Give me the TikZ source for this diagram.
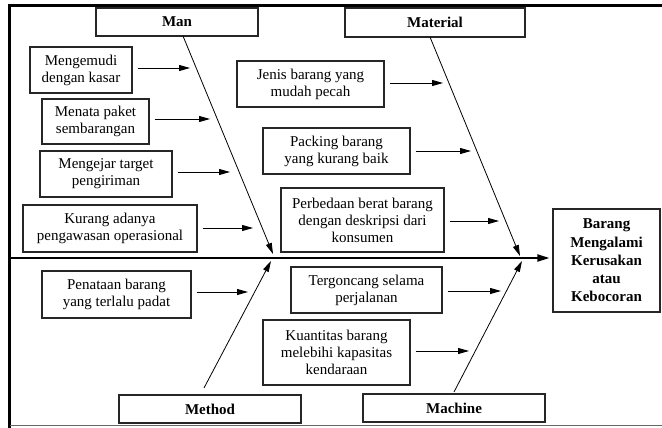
\documentclass[tikz,border=0pt]{standalone}
\usepackage{fontspec}
\setmainfont{Liberation Serif}
\usetikzlibrary{arrows.meta}
\begin{document}
\begin{tikzpicture}[x=1pt,y=-1pt,
  txt/.style={font=\fontsize{15}{17}\selectfont},
  cause/.style={draw=black!85,line width=1.1pt,align=center,txt,inner sep=0pt},
  cat/.style={draw=black!85,line width=1.1pt,font=\fontsize{15}{17}\selectfont\bfseries,inner sep=0pt},
  effect/.style={draw=black!85,line width=1.1pt,align=center,font=\fontsize{15}{18.3}\selectfont\bfseries,inner sep=0pt},
  carrow/.style={line width=0.8pt,-{Triangle[length=11pt,width=6pt]},shorten <=5pt},
  bone/.style={line width=0.8pt,-{Triangle[length=11pt,width=6pt]}},
  spine/.style={line width=2pt,-{Triangle[length=12pt,width=7pt]},shorten >=3pt}
]
\useasboundingbox (0,0) rectangle (662,428);
% frame
\draw[line width=3pt] (9.5,428) -- (9.5,6) -- (662,6);
\draw[line width=0.8pt,black!60] (9.5,425.5) -- (662,425.5);

% categories
\node[cat,minimum width=162pt,minimum height=28pt] (man) at (177,22) {Man};
\node[cat,minimum width=180pt,minimum height=29pt] (material) at (435,22.5) {Material};
\node[cat,minimum width=182pt,minimum height=28pt] (method) at (210,409) {Method};
\node[cat,minimum width=182pt,minimum height=28pt] (machine) at (454,408) {Machine};

% effect
\node[effect,minimum width=107pt,minimum height=103pt] (effect) at (606.5,260.5) {Barang\\Mengalami\\Kerusakan\\atau\\Kebocoran};

% spine
\coordinate (spineS) at (9.5,258);
\draw[spine] (spineS) -- (spineS -| effect.west);

% bones
\coordinate (manS) at (183,36);
\coordinate (manT) at (273,254);
\coordinate (matS) at (430,37);
\coordinate (matT) at (520,256);
\coordinate (metS) at (204,388);
\coordinate (metT) at (271,261);
\coordinate (macS) at (454,392);
\coordinate (macT) at (522,261);
\draw[bone] (manS) -- (manT);
\draw[bone] (matS) -- (matT);
\draw[bone] (metS) -- (metT);
\draw[bone] (macS) -- (macT);

% Man causes
\node[cause,minimum width=102pt,minimum height=46pt] (c1) at (81,70) {Mengemudi\\dengan kasar};
\node[cause,minimum width=107pt,minimum height=45pt] (c2) at (95.5,121.5) {Menata paket\\sembarangan};
\node[cause,minimum width=132pt,minimum height=46pt] (c3) at (106,174) {Mengejar target\\pengiriman};
\node[cause,minimum width=174pt,minimum height=47pt] (c4) at (110,228.5) {Kurang adanya\\pengawasan operasional};
\coordinate (a1) at (190,68);
\coordinate (a2) at (210,119);
\coordinate (a3) at (230,172);
\coordinate (a4) at (253,228);
\draw[carrow] (c1.east |- a1) -- (a1);
\draw[carrow] (c2.east |- a2) -- (a2);
\draw[carrow] (c3.east |- a3) -- (a3);
\draw[carrow] (c4.east |- a4) -- (a4);

% Material causes
\node[cause,minimum width=147pt,minimum height=46pt] (m1) at (310.5,84) {Jenis barang yang\\mudah pecah};
\node[cause,minimum width=147pt,minimum height=46pt] (m2) at (336.5,151) {Packing barang\\yang kurang baik};
\node[cause,minimum width=163pt,minimum height=64pt] (m3) at (362.5,220) {Perbedaan berat barang\\dengan deskripsi dari\\konsumen};
\coordinate (b1) at (443,83);
\coordinate (b2) at (471,151);
\coordinate (b3) at (499,221);
\draw[carrow] (m1.east |- b1) -- (b1);
\draw[carrow] (m2.east |- b2) -- (b2);
\draw[carrow] (m3.east |- b3) -- (b3);

% Method cause
\node[cause,minimum width=149pt,minimum height=47pt] (t1) at (116.5,294.5) {Penataan barang\\yang terlalu padat};
\coordinate (d1) at (248,292);
\draw[carrow] (t1.east |- d1) -- (d1);

% Machine causes
\node[cause,minimum width=151pt,minimum height=46pt] (k1) at (366.5,290) {Tergoncang selama\\perjalanan};
\node[cause,minimum width=147pt,minimum height=65pt] (k2) at (336.5,352.5) {Kuantitas barang\\melebihi kapasitas\\kendaraan};
\coordinate (e1) at (501,291);
\coordinate (e2) at (469,351);
\draw[carrow] (k1.east |- e1) -- (e1);
\draw[carrow] (k2.east |- e2) -- (e2);
\end{tikzpicture}
\end{document}
